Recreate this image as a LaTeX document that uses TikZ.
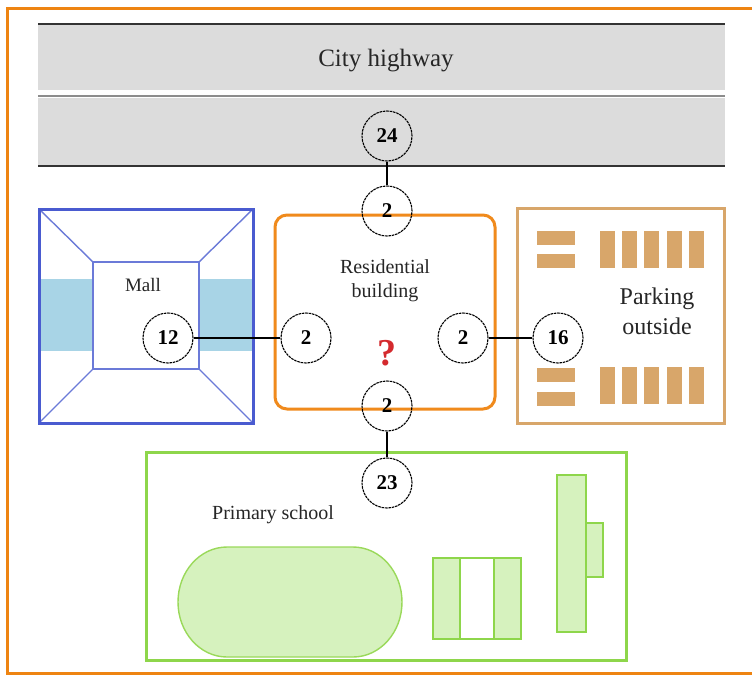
\documentclass[tikz,border=0pt]{standalone}
\usepackage{fontspec}
\setmainfont{Liberation Serif}
\begin{document}
\begin{tikzpicture}[x=1pt,y=-1pt,
  spot/.style={circle, draw=black, line width=1.1pt, dash pattern=on 2.6pt off 0.8pt,
    minimum size=50pt, inner sep=0pt, font=\bfseries\fontsize{21}{21}\selectfont},
  link/.style={draw=black, line width=1.4pt},
  label/.style={inner sep=0pt, align=center, text=black!85}]
\definecolor{frameC}{HTML}{EE8412}
\definecolor{roadC}{HTML}{DCDCDC}
\definecolor{mallC}{HTML}{4A5BD0}
\definecolor{mallL}{HTML}{6B7AD8}
\definecolor{mallF}{HTML}{A8D4E6}
\definecolor{resC}{HTML}{F08A1C}
\definecolor{parkC}{HTML}{D8A66A}
\definecolor{schoolC}{HTML}{8ED64B}
\definecolor{schoolF}{HTML}{D6F2BE}
\definecolor{schoolL}{HTML}{9AD95A}
\definecolor{askC}{HTML}{D42A2E}
\useasboundingbox (0,0) rectangle (752,675);
\fill[white] (0,0) rectangle (752,675);
% outer frame (open to the right)
\draw[draw=frameC, line width=3pt] (760,8) -- (7,8) -- (7,673) -- (760,673);

% city highway
\fill[roadC] (38,25) rectangle (725,90);
\fill[roadC] (38,98) rectangle (725,166);
\draw[draw=black!45, line width=2pt] (38,96) -- (725,96);
\draw[draw=black!80, line width=2.5pt] (38,24) -- (725,24);
\draw[draw=black!80, line width=2.5pt] (38,166) -- (725,166);
\node[label, font=\fontsize{25}{25}\selectfont] (hw) at (386,61) {City highway};

% mall
\fill[mallF] (39,279) rectangle (93,351);
\fill[mallF] (199,279) rectangle (253,351);
\draw[draw=mallL, line width=1.4pt] (93,262) rectangle (199,369);
\draw[draw=mallL, line width=1.4pt] (39,209) -- (93,262) (253,209) -- (199,262)
  (39,423) -- (93,369) (253,423) -- (199,369);
\draw[draw=mallC, line width=3pt] (39,209) rectangle (253,423);
\node[label, font=\fontsize{19}{19}\selectfont] (mall) at (143,285) {Mall};

% residential building
\draw[draw=resC, line width=3pt, rounded corners=12pt] (275,215) rectangle (495,409);
\node[label, font=\fontsize{20}{24}\selectfont] (res) at (385,281) {Residential\\building};
\node[label, text=askC, font=\bfseries\fontsize{38}{38}\selectfont] (ask) at (387,353) {?};

% parking outside
\draw[draw=parkC, line width=3pt] (517,208) rectangle (724,423);
\foreach \y in {231,254,368,392}
  \fill[parkC] (537,\y) rectangle (575,\y+14);
\foreach \x in {600,622,644,667,689} {
  \fill[parkC] (\x,231) rectangle (\x+15,268);
  \fill[parkC] (\x,367) rectangle (\x+15,404);
}
\node[label, font=\fontsize{24}{30}\selectfont] (park) at (657,311) {Parking\\outside};

% primary school
\draw[draw=schoolC, line width=3pt] (146,452) rectangle (626,660);
\draw[draw=schoolL, fill=schoolF, line width=1.4pt]
  (227,547) -- (353,547) arc[start angle=-90, end angle=90, x radius=49, y radius=55]
  -- (227,657) arc[start angle=90, end angle=270, x radius=49, y radius=55] -- cycle;
\fill[schoolF] (433,558) rectangle (460,639);
\fill[schoolF] (494,558) rectangle (521,639);
\draw[draw=schoolC, line width=1.4pt] (433,558) rectangle (521,639)
  (460,558) -- (460,639) (494,558) -- (494,639);
\draw[draw=schoolC, fill=schoolF, line width=1.4pt] (586,523) rectangle (603,577);
\draw[draw=schoolC, fill=schoolF, line width=1.4pt] (557,475) rectangle (586,632);
\node[label, font=\fontsize{20}{20}\selectfont] (school) at (273,515) {Primary school};

% distance markers
\node[spot] (n24) at (387,136) {24};
\node[spot] (rt) at (387,211) {2};
\node[spot] (rl) at (306,338) {2};
\node[spot] (rr) at (463,338) {2};
\node[spot] (rb) at (387,406) {2};
\node[spot] (n12) at (168,338) {12};
\node[spot] (n16) at (558,338) {16};
\node[spot] (n23) at (387,483) {23};

% connectors
\draw[link] (n24) -- (rt);
\draw[link] (n12) -- (rl);
\draw[link] (rr) -- (n16);
\draw[link] (rb) -- (n23);
\end{tikzpicture}
\end{document}
